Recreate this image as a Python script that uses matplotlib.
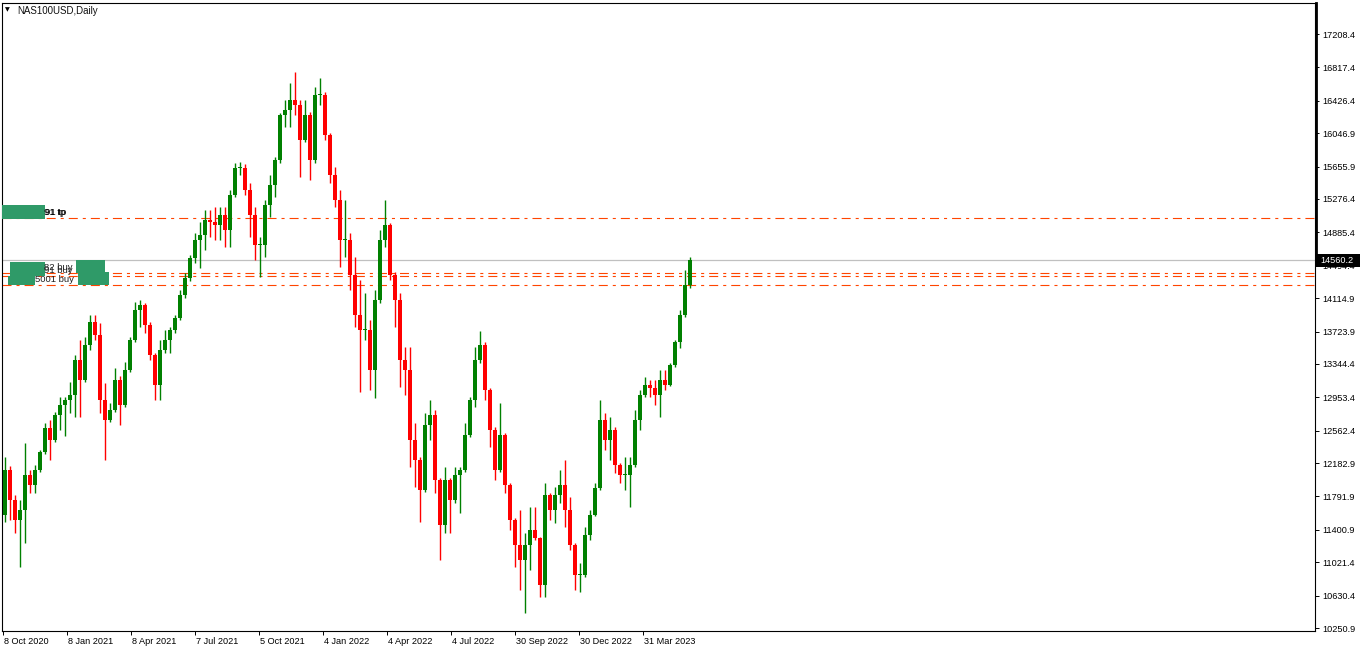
import matplotlib
matplotlib.use("Agg")
import matplotlib.pyplot as plt
from matplotlib.patches import Rectangle
from matplotlib.lines import Line2D
from matplotlib.transforms import ScaledTranslation

plt.rcParams['font.family'] = ['Liberation Sans', 'DejaVu Sans']
plt.rcParams['lines.scale_dashes'] = False

# ---------------- data (weekly OHLC) ----------------
first_open = 11575
week_high = [12254, 12150, 11809, 11750, 12418, 12102, 12160, 12336, 12652, 12687,
             12781, 12957, 12957, 13133, 13449, 13625, 13660, 13917, 13917, 13824,
             13121, 12887, 13297, 13200, 13367, 13660, 14070, 14093, 14058, 13830,
             13472, 13625, 13742, 13777, 13917, 14210, 14409, 14620, 14878, 15007,
             15147, 15147, 15182, 15182, 15182, 15381, 15698, 15710, 15680, 15464,
             15182, 14831, 15264, 15557, 15768, 16283, 16436, 16635, 16764, 16436,
             16436, 16300, 16588, 16693, 16530, 16049, 15651, 15381, 15264, 14878,
             14597, 14327, 14175, 13859, 14210, 14913, 15264, 15000, 14420, 14175,
             13543, 13543, 12652, 12250, 12769, 12922, 12805, 12010, 12137, 12010,
             12137, 12137, 12652, 12957, 13543, 13730, 13600, 13060, 12600, 12887,
             12540, 11950, 11540, 11633, 11364, 11668, 11668, 11320, 11950, 11832,
             11903, 12102, 12219, 11786, 11250, 11013, 11434, 11633, 11950, 12922,
             12769, 12723, 12600, 12184, 12254, 12254, 12805, 13039, 13191, 13156,
             13156, 13273, 13273, 13355, 13625, 13976, 14444, 14597]
week_low = [11493, 11516, 11364, 10966, 11247, 11832, 11832, 12080, 12290, 12219,
            12430, 12570, 12500, 12769, 12723, 12723, 13130, 13507, 13625, 12769,
            12219, 12660, 12780, 12629, 12840, 13250, 13600, 13777, 13707, 13390,
            12922, 12922, 13472, 13472, 13707, 13859, 14120, 14320, 14526, 14468,
            14679, 14831, 14796, 14796, 14714, 14714, 15300, 15557, 15323, 14831,
            14562, 14362, 14597, 15065, 15299, 15700, 16119, 16119, 16260, 15534,
            15940, 15499, 15700, 16377, 15967, 15464, 15182, 14480, 14597, 14210,
            13777, 13015, 13625, 13039, 12945, 14060, 14714, 14327, 13777, 13074,
            12980, 12137, 11903, 11493, 11840, 12453, 11832, 11048, 11364, 11364,
            11720, 11598, 12080, 12490, 12840, 13360, 12922, 12371, 11985, 12080,
            11832, 11399, 10966, 10696, 10427, 10931, 11282, 10614, 10614, 11516,
            11481, 11715, 11434, 11165, 10696, 10673, 10850, 11282, 11560, 11870,
            12336, 12219, 12067, 11950, 11868, 11668, 12140, 12570, 12957, 12957,
            12863, 12723, 13039, 13080, 13308, 13531, 13894, 14234]
week_close = [12102, 11750, 11516, 11633, 12043, 11926, 12102, 12313, 12594, 12453,
              12746, 12863, 12922, 12980, 13390, 13156, 13566, 13835, 13683, 12922,
              12687, 12805, 13156, 12863, 13273, 13625, 13976, 14034, 13800, 13449,
              13097, 13507, 13625, 13742, 13882, 14152, 14351, 14585, 14796, 14854,
              15030, 15007, 14972, 15089, 14913, 15323, 15639, 15639, 15381, 15089,
              14737, 14737, 15206, 15440, 15733, 16260, 16319, 16436, 16377, 15967,
              16260, 15733, 16494, 16494, 16026, 15557, 15264, 14796, 14796, 14386,
              13917, 13742, 13742, 13273, 14093, 14796, 14972, 14386, 14093, 13390,
              13273, 12453, 12219, 11868, 12629, 12746, 11985, 11458, 11985, 11750,
              12043, 12102, 12512, 12922, 13390, 13566, 13039, 12570, 12102, 12512,
              11926, 11516, 11223, 11048, 11223, 11399, 11300, 10755, 11809, 11633,
              11809, 11926, 11633, 11223, 10872, 10872, 11340, 11575, 11891, 12687,
              12453, 12570, 12160, 12043, 12043, 12160, 12687, 12980, 13097, 13062,
              12980, 13156, 13097, 13332, 13601, 13917, 14269, 14560.2]
bars_per_week = 5

date_labels = ["8 Oct 2020", "8 Jan 2021", "8 Apr 2021", "7 Jul 2021", "5 Oct 2021",
               "4 Jan 2022", "4 Apr 2022", "4 Jul 2022", "30 Sep 2022", "30 Dec 2022",
               "31 Mar 2023"]
date_bar_index = [0, 64, 128, 192, 256, 320, 384, 448, 512, 576, 640]

price_ticks = [17208.4, 16817.4, 16426.4, 16046.9, 15655.9, 15276.4, 14885.4,
               14494.4, 14114.9, 13723.9, 13344.4, 12953.4, 12562.4, 12182.9,
               11791.9, 11400.9, 11021.4, 10630.4, 10250.9]
current_price = 14560.2
tp_level = 15049.7
buy_levels = [14405.0, 14374.0, 14268.5]

title = "NAS100USD,Daily"

# ---------------- figure ----------------
W, H = 1362, 652
fig = plt.figure(figsize=(W / 100, H / 100), dpi=100)
fig.patch.set_facecolor("white")
ax = fig.add_axes([2 / W, (H - 631) / H, 1313 / W, 628 / H])
ax.set_facecolor("white")

ax.set_xlim(-1, 1312)
ax.set_ylim(10215.9, 17571.6)

opens = [first_open] + week_close[:-1]
green = "#008000"
red = "#ff0000"
centers, bottoms, heights, colors = [], [], [], []
for w, (o, hi, lo, c) in enumerate(zip(opens, week_high, week_low, week_close)):
    x = bars_per_week * w + 2
    col = green if c >= o else red
    centers.append(x)
    bottoms.append(min(o, c))
    heights.append(max(abs(c - o), 8))
    colors.append(col)

ax.vlines(centers, week_low, week_high, colors=colors, linewidth=1.0, zorder=3)
ax.bar(centers, heights, bottom=bottoms, width=4, color=colors, linewidth=0, zorder=3)

# horizontal lines
ax.axhline(current_price, color="#c0c0c0", linewidth=0.9, zorder=2)
dash = (6.5, 3.6, 2.2, 3.6)
for lvl in [tp_level] + buy_levels:
    ax.axhline(lvl, color="#ff4500", linewidth=0.8, dashes=dash, zorder=2)

# spines
for s in ax.spines.values():
    s.set_color("black")
    s.set_linewidth(0.8)

# y axis on the right
ax.yaxis.tick_right()
ax.set_yticks(price_ticks)
ax.set_yticklabels([f"{v:.1f}" for v in price_ticks])
ax.tick_params(axis="y", direction="out", length=2.9, width=0.7, pad=2.6,
               labelsize=6.6, colors="black")

# x axis
ax.set_xticks(date_bar_index)
ax.set_xticklabels(date_labels)
ax.tick_params(axis="x", direction="out", length=3.0, width=0.7, pad=1.5,
               labelsize=6.6, colors="black")
for lab in ax.get_xticklabels():
    lab.set_horizontalalignment("left")
    lab.set_transform(lab.get_transform() + ScaledTranslation(1.5 / 100, 0, fig.dpi_scale_trans))

# thick upper part of the price-scale line
fig.add_artist(Line2D([1315.5 / W, 1315.5 / W], [1 - 3 / H, 1 - 256 / H],
                      color="black", linewidth=2.0, zorder=4))

# title
fig.text(5 / W, 1 - 10 / H, "▼", fontsize=4.5, family="DejaVu Sans",
         va="center", ha="left", color="black")
fig.text(17 / W, 1 - 10.5 / H, title, fontsize=7, va="center", ha="left", color="#101010")


def px_rect(x0, y0, x1, y1, color, z=5):
    fig.add_artist(Rectangle((x0 / W, 1 - y1 / H), (x1 - x0) / W, (y1 - y0) / H,
                             transform=fig.transFigure, facecolor=color,
                             edgecolor="none", zorder=z))


def px_text(x, y, s, color="black", **kw):
    fig.text(x / W, 1 - y / H, s, fontsize=6.8, color=color, va="center", ha="left",
             zorder=6, **kw)


box_green = "#2f9a68"
# tp label
px_rect(2, 205, 45, 219, box_green)
px_text(44, 212.5, "91 tp")
px_text(44.6, 212.5, "91 tp")
# buy labels (overlapping, as on the chart)
px_text(44, 267, "82 buy", color="#222222")
px_text(44, 271, "91 buy", color="#222222")
px_text(35, 280, "5001 buy", color="#222222")
px_rect(10, 262, 45, 276, box_green)
px_rect(8, 276, 35, 285, box_green)
px_rect(76, 260, 105, 273, box_green)
px_rect(78, 272, 109, 285, box_green)

# current price box on the price scale
px_rect(1316, 254, 1360, 267, "black", z=7)
fig.text(1320 / W, 1 - 260.5 / H, f"{current_price:.1f}", fontsize=6.6, color="white",
         va="center", ha="left", zorder=8)

fig.savefig("out.png", dpi=100, facecolor="white")
